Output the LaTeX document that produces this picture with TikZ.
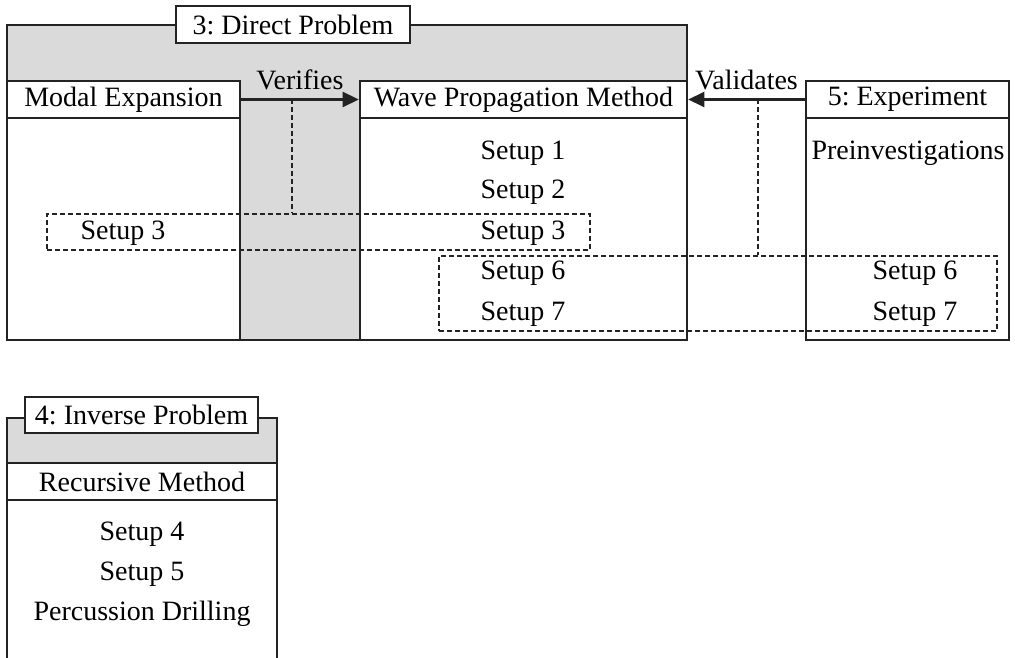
\documentclass[tikz,border=0pt]{standalone}
\usepackage{fontspec}
\setmainfont{Liberation Serif}
\usetikzlibrary{arrows.meta}
\definecolor{bg}{RGB}{218,218,218}
\definecolor{ln}{RGB}{35,35,35}
\tikzset{
  every node/.style={font=\fontsize{28}{32}\selectfont, inner sep=0pt},
  hdr/.style={draw=ln, line width=2.6pt, fill=white, minimum height=37pt},
  dbox/.style={draw=ln, line width=2.4pt, dash pattern=on 5pt off 3pt},
  dline/.style={draw=ln, line width=2.4pt, dash pattern=on 5pt off 3pt},
  frm/.style={draw=ln, line width=2.6pt},
  arr/.style={draw=ln, line width=2.6pt, -{Triangle[length=16pt,width=15pt]}},
  lbl/.style={text=black}
}
\begin{document}
\begin{tikzpicture}[x=1pt,y=-1pt]
\clip (0,0) rectangle (1015,658);
\fill[white] (0,0) rectangle (1015,658);
% --- group 3
\fill[bg] (7,25) rectangle (687,340);
\fill[white] (7,118) rectangle (240,340);
\fill[white] (360,118) rectangle (687,340);
\draw[frm] (7,25) rectangle (687,340);
\draw[frm] (240,118) -- (240,340);
\draw[frm] (360,118) -- (360,340);
\node[hdr, minimum width=234pt] (t3) at (293,24.5) {3:\ Direct Problem};
\node[hdr, minimum width=233pt] (modal) at (123.5,99.5) {Modal Expansion};
\node[hdr, minimum width=327pt] (wpm) at (523.5,99.5) {Wave Propagation Method};
% --- experiment
\draw[frm] (806,118) rectangle (1009,340);
\node[hdr, minimum width=203pt] (exp) at (907.5,99.5) {5:\ Experiment};
% --- text
\node[lbl] (s1) at (523,153) {Setup 1};
\node[lbl] (s2) at (523,192) {Setup 2};
\node[lbl] (s3r) at (523,233) {Setup 3};
\node[lbl] (s3l) at (123,233) {Setup 3};
\node[lbl] (s6) at (523,273) {Setup 6};
\node[lbl] (s7) at (523,314) {Setup 7};
\node[lbl] (s6r) at (915,273) {Setup 6};
\node[lbl] (s7r) at (915,314) {Setup 7};
\node[lbl] (pre) at (908,153) {Preinvestigations};
% --- dashed groups
\node[dbox, minimum width=543pt, minimum height=36pt] (d3) at (318.5,232) {};
\node[dbox, minimum width=558pt, minimum height=75pt] (d67) at (718,293.5) {};
% --- arrows
\draw[arr] (modal.east) -- (wpm.west) node[midway, above=8pt, lbl] (ver) {Verifies};
\draw[arr] (exp.west) -- (wpm.east) node[midway, above=8pt, lbl] (val) {Validates};
\coordinate (vv) at (292,99.5);
\coordinate (va) at (758,99.5);
\draw[dline] (vv) -- (vv |- d3.north);
\draw[dline] (va) -- (va |- d67.north);
% --- group 4
\fill[bg] (7,418) rectangle (277,463);
\draw[frm] (7,670) -- (7,418) -- (277,418) -- (277,670);
\node[hdr, minimum width=233pt, minimum height=36pt] (t4) at (141.5,415) {4:\ Inverse Problem};
\node[hdr, minimum width=270pt] (rec) at (142,481.5) {Recursive Method};
\node[lbl] (s4) at (142,534) {Setup 4};
\node[lbl] (s5) at (142,574) {Setup 5};
\node[lbl] (pd) at (142,614) {Percussion Drilling};
\end{tikzpicture}
\end{document}
